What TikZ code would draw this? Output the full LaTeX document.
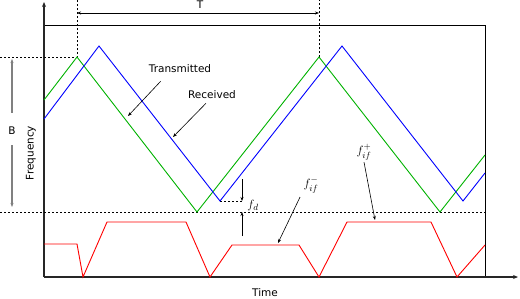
\documentclass[tikz,border=0pt]{standalone}
\usepackage{fontspec}
\setmainfont{DejaVu Sans}
\usetikzlibrary{arrows.meta}
\tikzset{
  axis/.style={line width=1.6pt,black!85,-{Stealth[length=5pt,width=4pt]}},
  frame/.style={line width=0.7pt},
  tx/.style={line width=0.9pt,green!70!black,line join=miter},
  rx/.style={line width=0.9pt,blue},
  beat/.style={line width=0.9pt,red},
  guide/.style={line width=0.7pt,dash pattern=on 2pt off 2pt},
  ptr/.style={line width=0.6pt,-{Stealth[length=4pt,width=3pt]}},
  span/.style={line width=1.1pt,gray,-{Stealth[length=4pt,width=3pt]}},
  lbl/.style={font=\fontsize{10.5}{12}\selectfont,inner sep=1pt},
  math/.style={font=\fontsize{13}{15}\selectfont,inner sep=1pt},
}

\begin{document}
\begin{tikzpicture}[x=1pt,y=-1pt]
    \useasboundingbox (0,0) rectangle (520,298);
    % axes and the frame of the plot
    \draw[frame] (44,25) -- (485,25) -- (485,277);
    \draw[axis] (44,277) -- (44,2);
    \draw[axis] (44,277) -- (518,277);
    \node[lbl] (time) at (265,293) {Time};
    \node[lbl,rotate=90] (freq) at (31,153) {Frequency};
    % guide lines: top of the sweep, the two periods, bottom of the sweep
    \draw[guide] (0,57) -- (77,57) -- (77,0);
    \draw[guide] (319,57) -- (319,0);
    \draw[guide] (0,212) -- (485,212);
    \draw[guide] (220,201) -- (242,201);
    % period T
    \node[lbl] (T) at (200,5) {T};
    \coordinate (tl) at (77,13);
    \coordinate (tr) at (319,13);
    \draw[ptr,{Stealth[length=4pt,width=3pt]}-{Stealth[length=4pt,width=3pt]}] (tl) -- (tr);
    % bandwidth B
    \node[lbl] (B) at (12,131) {B};
    \coordinate (btop) at (12,59);
    \coordinate (bbot) at (12,207);
    \draw[span] ([yshift=13pt]B.north) -- (btop);
    \draw[span] ([yshift=-9pt]B.south) -- (bbot);
    % transmitted and received sweeps
    \draw[tx] (44,100) -- (77,57) -- (197,212) -- (319,57) -- (440,212) -- (485,155);
    \draw[rx] (44,119) -- (99,46) -- (220,201) -- (342,46) -- (463,201) -- (485,173);
    % beat frequency
    \draw[beat] (44,244) -- (77,244) -- (83,277) -- (107,222) -- (186,222) -- (210,277)
      -- (232,245) -- (299,245) -- (319,277) -- (347,222) -- (431,222) -- (457,277) -- (485,245);
    % labels with pointers
    \node[lbl] (txl) at (180,69) {Transmitted};
    \node[lbl] (rxl) at (212,95) {Received};
    \coordinate (txtip) at (128,116);
    \coordinate (rxtip) at (173,137);
    \draw[ptr] ([xshift=13pt,yshift=-7pt]txl.south west) -- (txtip);
    \draw[ptr] ([xshift=-6pt,yshift=-3pt]rxl.south) -- (rxtip);
    \node[math] (fm) at (311,185) {$f_{if}^-$};
    \node[math] (fp) at (364,152) {$f_{if}^+$};
    \coordinate (fmtip) at (278,243);
    \coordinate (fptip) at (375,220);
    \draw[ptr] ([xshift=-11pt,yshift=-3pt]fm.south) -- (fmtip);
    \draw[ptr] ([yshift=-1pt]fp.south) -- (fptip);
    % doppler shift f_d
    \node[math] (fd) at (253,205) {$f_d$};
    \coordinate (fdtop) at (242,179);
    \coordinate (fdbot) at (242,236);
    \draw[ptr] (fdtop) -- (242,201);
    \draw[ptr] (fdbot) -- (242,212);
\end{tikzpicture}
\end{document}
